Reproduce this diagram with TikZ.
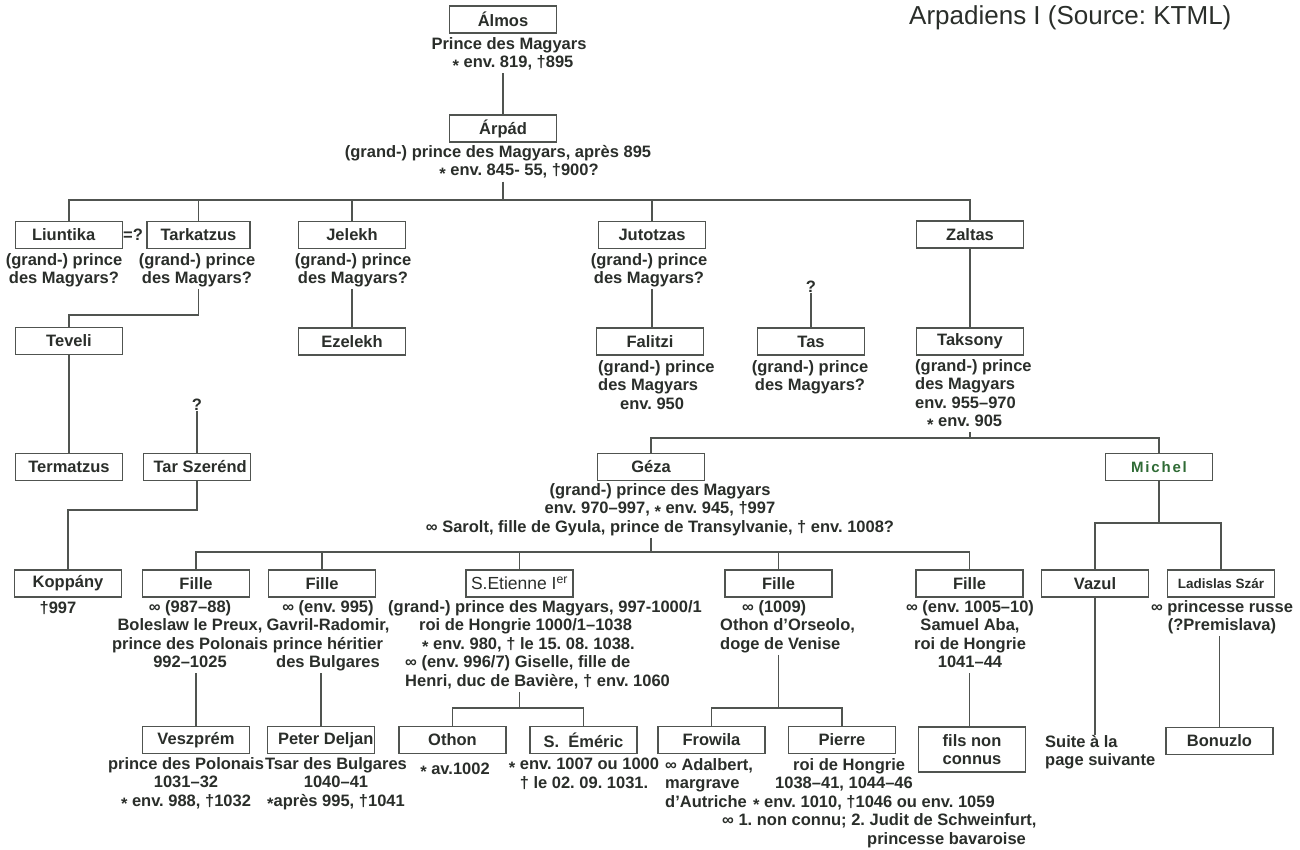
\documentclass[tikz,border=0pt]{standalone}
\usepackage{fontspec}
\setmainfont{Liberation Sans}
\usetikzlibrary{calc}
\definecolor{ink}{HTML}{2A2E2A}
\definecolor{rulegrey}{HTML}{505450}
\definecolor{michelgreen}{HTML}{2F6B35}
% birth mark: a lowered asterisk
\newcommand{\bn}{\raisebox{-0.22em}{*}}
\frenchspacing

\begin{document}
\begin{tikzpicture}[x=1pt,y=-1pt,
  every node/.style={text=ink, font=\fontsize{16.5}{18.5}\selectfont\bfseries},
  person/.style={draw=rulegrey, line width=1.3pt, minimum width=107pt, minimum height=27pt, inner sep=0pt},
  caption/.style={anchor=north, inner sep=0pt, align=center, execute at begin node=\strut},
  lcaption/.style={anchor=north west, inner sep=0pt, align=left, execute at begin node=\strut},
  link/.style={draw=rulegrey, line width=1.2pt}]

\fill[white] (0,0) rectangle (1300,850);
\useasboundingbox (0,0) rectangle (1300,850);

% title
\node[anchor=base west, inner sep=0pt, font=\fontsize{26}{30}\selectfont] (title) at (909,25) {Arpadiens I (Source: KTML)};

% levels of the horizontal family bars
\coordinate (lvA) at (0,200);
\coordinate (lvB) at (0,315);
\coordinate (lvC) at (0,510);
\coordinate (lvD) at (0,438);
\coordinate (lvE) at (0,552);
\coordinate (lvF) at (0,523);
\coordinate (lvG) at (0,708);

% generation 1-2
\node[person] (almos) at (503,19.5) {Álmos};
\node[caption] (almostxt) at (509,37) {Prince des Magyars\\\hspace*{8pt}\bn\ env. 819, †895};
\node[person] (arpad) at (503,128.5) {Árpád};
\node[caption] (arpadtxt) at (498,145) {(grand-) prince des Magyars, après 895\\\hspace*{42pt}\bn\ env. 845- 55, †900?};

% sons of Árpád
\node[person, inner xsep=14pt] (liuntika) at (69,235) {\makebox[74pt][l]{Liuntika}};
\node[inner sep=0pt] (eqq) at (133,235) {=?};
\node[person, minimum width=103pt] (tarkatzus) at (198.5,235) {Tarkatzus};
\node[person] (jelekh) at (352,235) {Jelekh};
\node[person] (jutotzas) at (652,235) {Jutotzas};
\node[person] (zaltas) at (970,234.5) {Zaltas};

\node[caption] (liuntxt) at (64,253) {(grand-) prince\\des Magyars?};
\node[caption] (tarktxt) at (197,253) {(grand-) prince\\des Magyars?};
\node[caption] (jelektxt) at (353,253) {(grand-) prince\\des Magyars?};
\node[caption] (jutotxt) at (649,253) {(grand-) prince\\des Magyars?};

% grandsons
\node[person] (teveli) at (69,341) {Teveli};
\node[person] (ezelekh) at (352,341.5) {Ezelekh};
\node[person] (falitzi) at (650,341.5) {Falitzi};
\node[lcaption] (falitxt) at (598,360) {(grand-) prince\\des Magyars\\\hspace*{22pt}env. 950};
\node[inner sep=0pt] (qm2) at (811,287) {?};
\node[person] (tas) at (811,341.5) {Tas};
\node[caption] (tastxt) at (810,360) {(grand-) prince\\des Magyars?};
\node[person] (taksony) at (970,341.5) {Taksony};
\node[lcaption] (takstxt) at (915,359) {(grand-) prince\\des Magyars\\env. 955–970\\\hspace*{12pt}\bn\ env. 905};

% next generation
\node[person] (termatzus) at (69,467) {Termatzus};
\node[inner sep=0pt] (qm1) at (197,405) {?};
\node[person, inner xsep=10pt] (tarszerend) at (197,467) {\makebox[87pt][l]{Tar Szerénd}};
\node[person] (geza) at (651,467) {Géza};
\node[caption] (gezatxt) at (660,483) {(grand-) prince des Magyars\\env. 970–997, \bn\ env. 945, †997\\∞ Sarolt, fille de Gyula, prince de Transylvanie, † env. 1008?};
\node[person, text=michelgreen, font=\fontsize{15}{17}\selectfont\bfseries\addfontfeature{LetterSpace=12}] (michel) at (1159,467) {Michel};

% children of Géza, Tar Szerénd and Michel
\node[person] (koppany) at (68,583.5) {Koppány};
\node[caption] (koptxt) at (58,600) {†997};
\node[person] (fille1) at (196,583.5) {Fille};
\node[caption] (f1txt) at (190,600) {∞ (987–88)\\Boleslaw le Preux,\\prince des Polonais\\992–1025};
\node[person] (fille2) at (322,583.5) {Fille};
\node[caption] (f2txt) at (328,600) {∞ (env. 995)\\Gavril-Radomir,\\prince héritier\\des Bulgares};
\node[person, font=\fontsize{17.5}{18.5}\selectfont] (etienne) at (519.5,583.5) {S.Etienne I\textsuperscript{er}};
\node[lcaption] (ettxt) at (388,600) {(grand-) prince des Magyars, 997-1000/1\\\hspace*{31pt}roi de Hongrie 1000/1–1038\\\hspace*{34pt}\bn\ env. 980, † le 15. 08. 1038.\\\hspace*{17pt}∞ (env. 996/7) Giselle, fille de\\\hspace*{17pt}Henri, duc de Bavière, † env. 1060};
\node[person] (fille4) at (778.5,583.5) {Fille};
\node[lcaption] (f4txt) at (720,600) {\hspace*{22pt}∞ (1009)\\Othon d'Orseolo,\\doge de Venise};
\node[person] (fille5) at (969.5,583.5) {Fille};
\node[caption] (f5txt) at (970,600) {∞ (env. 1005–10)\\Samuel Aba,\\roi de Hongrie\\1041–44};
\node[person] (vazul) at (1095,583.5) {Vazul};
\node[person, font=\fontsize{13.5}{16}\selectfont\bfseries] (ladislas) at (1221,583.5) {Ladislas Szár};
\node[caption] (ladtxt) at (1222,600) {∞ princesse russe\\(?Premislava)};

% last generation
\node[person] (veszprem) at (196,740) {Veszprém};
\node[caption] (veszptxt) at (186,757) {prince des Polonais\\1031–32\\\bn\ env. 988, †1032};
\node[person, inner xsep=10pt] (deljan) at (321,740) {\makebox[86pt][l]{Peter Deljan}};
\node[caption] (deljtxt) at (336,757) {Tsar des Bulgares\\1040–41\\\bn après 995, †1041};
\node[person] (othon) at (452.5,740) {Othon};
\node[caption] (othtxt) at (455,761) {\bn\ av.1002};
\node[person] (emeric) at (583.5,740) {S.\ \ Éméric};
\node[caption] (emertxt) at (584,758) {\bn\ env. 1007 ou 1000\\† le 02. 09. 1031.};
\node[person] (frowila) at (711.5,740) {Frowila};
\node[lcaption] (frowtxt) at (665,758) {∞ Adalbert,\\margrave\\d'Autriche};
\node[person] (pierre) at (842,740) {Pierre};
\node[lcaption] (piertxt) at (722,758) {\hspace*{71pt}roi de Hongrie\\\hspace*{53pt}1038–41, 1044–46\\\hspace*{31pt}\bn\ env. 1010, †1046 ou env. 1059\\∞ 1. non connu; 2. Judit de Schweinfurt,\\\hspace*{145pt}princesse bavaroise};
\node[person, minimum height=45pt, align=center] (filsnon) at (972,749.5) {fils non\\connus};
\node[lcaption] (suitetxt) at (1045,735) {Suite à la\\page suivante};
\node[person] (bonuzlo) at (1219.5,741) {Bonuzlo};

% connectors
\draw[link] (arpad |- almostxt.south) -- (arpad.north);
\draw[link] (arpad |- arpadtxt.south) -- (arpad |- lvA);
\draw[link] (liuntika.north) -- (liuntika |- lvA) -- (zaltas |- lvA) -- (zaltas.north);
\draw[link] (tarkatzus.north) -- (tarkatzus |- lvA);
\draw[link] (jelekh.north) -- (jelekh |- lvA);
\draw[link] (jutotzas.north) -- (jutotzas |- lvA);

\draw[link] (tarkatzus |- tarktxt.south) -- (tarkatzus |- lvB) -- (teveli |- lvB) -- (teveli.north);
\draw[link] (teveli.south) -- (termatzus.north);
\draw[link] (tarszerend |- qm1.south) -- (tarszerend.north);
\draw[link] (tarszerend.south) -- (tarszerend |- lvC) -- (koppany |- lvC) -- (koppany.north);
\draw[link] (ezelekh |- jelektxt.south) -- (ezelekh.north);
\draw[link] (jutotzas |- jutotxt.south) -- (jutotzas |- falitzi.north);
\draw[link] (tas |- qm2.south) -- (tas.north);
\draw[link] (zaltas.south) -- (taksony.north);

\draw[link] (taksony |- takstxt.south) -- (taksony |- lvD);
\draw[link] (geza.north) -- (geza |- lvD) -- (michel |- lvD) -- (michel.north);

\draw[link] (geza |- gezatxt.south) -- (geza |- lvE);
\draw[link] (fille1.north) -- (fille1 |- lvE) -- (fille5 |- lvE) -- (fille5.north);
\draw[link] (fille2.north) -- (fille2 |- lvE);
\draw[link] (etienne.north) -- (etienne |- lvE);
\draw[link] (fille4.north) -- (fille4 |- lvE);

\draw[link] (michel.south) -- (michel |- lvF);
\draw[link] (vazul.north) -- (vazul |- lvF) -- (ladislas |- lvF) -- (ladislas.north);

\draw[link] (veszprem |- f1txt.south) -- (veszprem.north);
\draw[link] (deljan |- f2txt.south) -- (deljan.north);
\draw[link] (etienne |- ettxt.south) -- (etienne |- lvG);
\draw[link] (othon.north) -- (othon |- lvG) -- (emeric |- lvG) -- (emeric.north);
\draw[link] (fille4 |- f4txt.south) -- (fille4 |- lvG);
\draw[link] (frowila.north) -- (frowila |- lvG) -- (pierre |- lvG) -- (pierre.north);
\draw[link] (fille5 |- f5txt.south) -- (fille5 |- filsnon.north);
\draw[link] (vazul.south) -- (vazul |- suitetxt.north);
\draw[link] (bonuzlo |- ladtxt.south) -- (bonuzlo.north);
\end{tikzpicture}
\end{document}
